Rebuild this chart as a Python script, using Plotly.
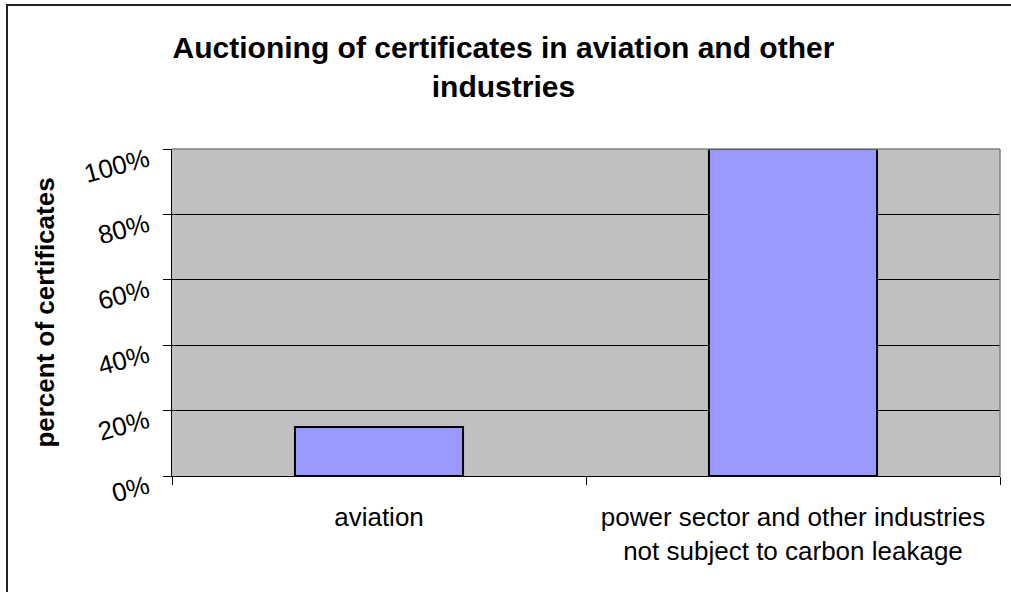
import plotly.graph_objects as go

# Share of certificates auctioned per sector
categories = ["aviation", "power sector and other industries<br>not subject to carbon leakage"]
auction_share = [0.15, 1.00]
y_ticks = [0, 0.2, 0.4, 0.6, 0.8, 1.0]
y_tick_labels = ["0%", "20%", "40%", "60%", "80%", "100%"]

FONT = "Liberation Sans, Arial, sans-serif"

fig = go.Figure(
    go.Bar(
        x=categories,
        y=auction_share,
        width=0.406,
        marker=dict(color="#9999FF", line=dict(color="#000000", width=2)),
    )
)

W, H = 1011, 592
L, R, T, B = 172, 11, 149, 116
pw, ph = W - L - R, H - T - B

def px_x(x):
    return (x - L) / pw

def px_y(y):
    return (H - B - y) / ph

fig.update_layout(
    width=W,
    height=H,
    margin=dict(l=L, r=R, t=T, b=B),
    paper_bgcolor="white",
    plot_bgcolor="#C0C0C0",
    showlegend=False,
    font=dict(family=FONT, color="black"),
    title=dict(
        text="<b>Auctioning of certificates in aviation and other<br>industries</b>",
        x=0.498,
        xref="container",
        xanchor="center",
        y=1 - 58 / H,
        yref="container",
        yanchor="top",
        font=dict(size=30, family=FONT, color="black"),
    ),
    xaxis=dict(
        type="category",
        showgrid=False,
        showline=True,
        linecolor="black",
        linewidth=1,
        ticks="outside",
        tickson="boundaries",
        ticklen=8,
        tickcolor="black",
        ticklabelstandoff=18,
        tickfont=dict(size=26, family=FONT, color="black"),
        mirror=False,
    ),
    yaxis=dict(
        range=[0, 1],
        tickvals=y_ticks,
        ticktext=y_tick_labels,
        tickangle=-15,
        ticklabelstandoff=10,
        ticklabelshift=8,
        showgrid=True,
        gridcolor="black",
        gridwidth=1,
        showline=True,
        linecolor="black",
        linewidth=1,
        ticks="outside",
        ticklen=8,
        tickcolor="black",
        tickfont=dict(size=26, family=FONT, color="black"),
        zeroline=False,
        title=dict(
            text="<b>percent of certificates</b>",
            font=dict(size=26, family=FONT, color="black"),
            standoff=18,
        ),
    ),
    shapes=[
        # gray frame around the plotting area (top and right)
        dict(type="line", xref="paper", yref="paper", x0=0, x1=1, y0=1, y1=1,
             line=dict(color="#808080", width=1.5)),
        dict(type="line", xref="paper", yref="paper", x0=1, x1=1, y0=0, y1=1,
             line=dict(color="#808080", width=1.5)),
        # outer chart border (left and top edges)
        dict(type="line", xref="paper", yref="paper",
             x0=px_x(7), x1=px_x(7), y0=px_y(H + 10), y1=px_y(5),
             line=dict(color="#222222", width=2), layer="above"),
        dict(type="line", xref="paper", yref="paper",
             x0=px_x(6), x1=px_x(W + 10), y0=px_y(5), y1=px_y(5),
             line=dict(color="#222222", width=2), layer="above"),
    ],
)

fig.write_html("out.html")
